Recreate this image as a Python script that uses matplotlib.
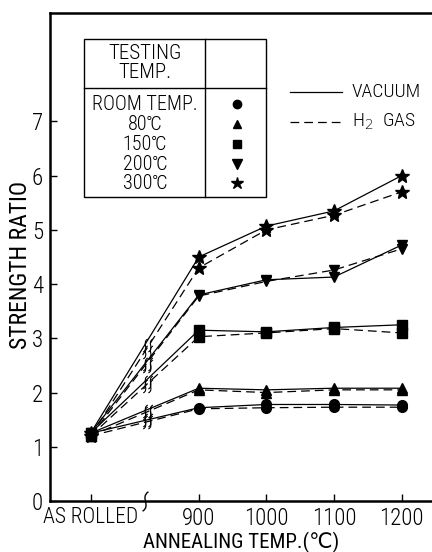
import numpy as np
import matplotlib
matplotlib.use("Agg")
import matplotlib.pyplot as plt
from matplotlib.path import Path
from matplotlib.patches import Rectangle
from matplotlib.lines import Line2D

plt.rcParams['font.family'] = ['Roboto Condensed', 'DejaVu Sans']
plt.rcParams['font.weight'] = 'light'

# annealing conditions (as-rolled placed left of the axis break)
x_labels = ['AS ROLLED', '900', '1000', '1100', '1200']
x_pos = [740, 900, 1000, 1100, 1200]
x_break = 820

test_temps = ['ROOM TEMP.', '80℃', '150℃', '200℃', '300℃']
markers = ['o', '^', 's', 'v', '*']

vacuum_rt = [1.25, 1.72, 1.78, 1.78, 1.77]
vacuum_80 = [1.25, 2.08, 2.05, 2.08, 2.08]
vacuum_150 = [1.25, 3.15, 3.12, 3.20, 3.25]
vacuum_200 = [1.25, 3.80, 4.08, 4.13, 4.72]
vacuum_300 = [1.25, 4.50, 5.07, 5.35, 6.00]

h2_rt = [1.20, 1.70, 1.72, 1.73, 1.73]
h2_80 = [1.20, 2.05, 2.00, 2.05, 2.05]
h2_150 = [1.20, 3.03, 3.10, 3.18, 3.10]
h2_200 = [1.20, 3.78, 4.05, 4.26, 4.65]
h2_300 = [1.20, 4.30, 5.00, 5.27, 5.70]

vacuum = [vacuum_rt, vacuum_80, vacuum_150, vacuum_200, vacuum_300]
h2 = [h2_rt, h2_80, h2_150, h2_200, h2_300]

fig = plt.figure(figsize=(4.32, 5.52), dpi=100)
ax = fig.add_axes([50/432, 51/552, 1 - 50/432, 488/552])

msize = {'o': 7, '^': 7, 's': 7, 'v': 7.5, '*': 10}
for m, yv, yh in zip(markers, vacuum, h2):
    ax.plot(x_pos, yv, color='k', lw=0.9, marker=m, ms=msize[m], clip_on=False)
    ax.plot(x_pos, yh, color='k', lw=0.9, ls=(0, (7, 4)), marker=m, ms=msize[m], clip_on=False)

# squiggle marking the broken scale between as-rolled and 900
sq = Path([(-0.35, -1.0), (0.6, -0.5), (-0.6, 0.5), (0.35, 1.0),
           (0.45, -1.0), (1.4, -0.5), (0.2, 0.5), (1.15, 1.0)],
          [Path.MOVETO, Path.CURVE4, Path.CURVE4, Path.CURVE4,
           Path.MOVETO, Path.CURVE4, Path.CURVE4, Path.CURVE4])
t = (x_break - x_pos[0]) / (x_pos[1] - x_pos[0])
for yv, yh in zip(vacuum, h2):
    for ys in (yv, yh):
        yb = ys[0] + t * (ys[1] - ys[0])
        ax.plot([x_break], [yb], marker=sq, ms=13, mfc='none', mec='k', mew=0.8, ls='none')
ax.plot([x_break], [0], marker=Path([(-0.3, -1), (0.6, -0.4), (-0.6, 0.4), (0.3, 1)],
                                  [Path.MOVETO, Path.CURVE4, Path.CURVE4, Path.CURVE4]),
        ms=14, mfc='none', mec='k', mew=1.0, ls='none', clip_on=False)

ax.set_xlim(680, 1245)
ax.set_ylim(0, 9)
ax.set_xticks(x_pos)
ax.set_xticklabels(x_labels)
ax.set_yticks(range(0, 8))
ax.tick_params(direction='in', length=5, width=1.0, labelsize=16.5, pad=4)
ax.tick_params(axis='y', pad=5)
ax.get_xticklabels()[0].set_fontsize(15.5)
ax.spines['right'].set_visible(False)
for s in ('left', 'bottom', 'top'):
    ax.spines[s].set_linewidth(1.8)

ax.set_xlabel('ANNEALING TEMP.(℃)', fontsize=15)
ax.set_ylabel('STRENGTH RATIO', fontsize=17)
ax.xaxis.set_label_coords(0.501, -0.084)
ax.yaxis.set_label_coords(-0.078, 0.484)
ax.xaxis.label.set_va('center')
ax.yaxis.label.set_va('center')


def ax_pt(px, py):
    return (px - 50) / 382, (501 - py) / 488


# testing temperature key
x0, y0 = ax_pt(84, 197)
x1, y1 = ax_pt(266, 39)
ax.add_patch(Rectangle((x0, y0), x1 - x0, y1 - y0, transform=ax.transAxes,
                       fill=False, lw=1.0, ec='k'))
xd, _ = ax_pt(205, 0)
_, yd = ax_pt(0, 88)
ax.plot([xd, xd], [y0, y1], transform=ax.transAxes, color='k', lw=1.0)
ax.plot([x0, x1], [yd, yd], transform=ax.transAxes, color='k', lw=1.0)
ax.text(*ax_pt(145, 63), 'TESTING\nTEMP.', transform=ax.transAxes, ha='center',
        va='center', fontsize=15, linespacing=1.0)
row_y = [104, 124, 144, 164, 183]
for name, m, py in zip(test_temps, markers, row_y):
    ax.text(*ax_pt(145, py), name, transform=ax.transAxes, ha='center', va='center',
            fontsize=14.5)
    ax.plot(*ax_pt(237, py), marker=m, color='k', ms=msize[m] - 1, transform=ax.transAxes)

# atmosphere key
for ls, name, py in [('-', 'VACUUM', 92), ((0, (7, 4)), 'H$_2$  GAS', 122)]:
    xa, ya = ax_pt(290, py)
    xb, _ = ax_pt(342, py)
    ax.add_line(Line2D([xa, xb], [ya, ya], transform=ax.transAxes, color='k', lw=0.9, ls=ls))
    ax.text(*ax_pt(352, py), name, transform=ax.transAxes, ha='left', va='center', fontsize=14)

fig.savefig('out.png', dpi=100)
